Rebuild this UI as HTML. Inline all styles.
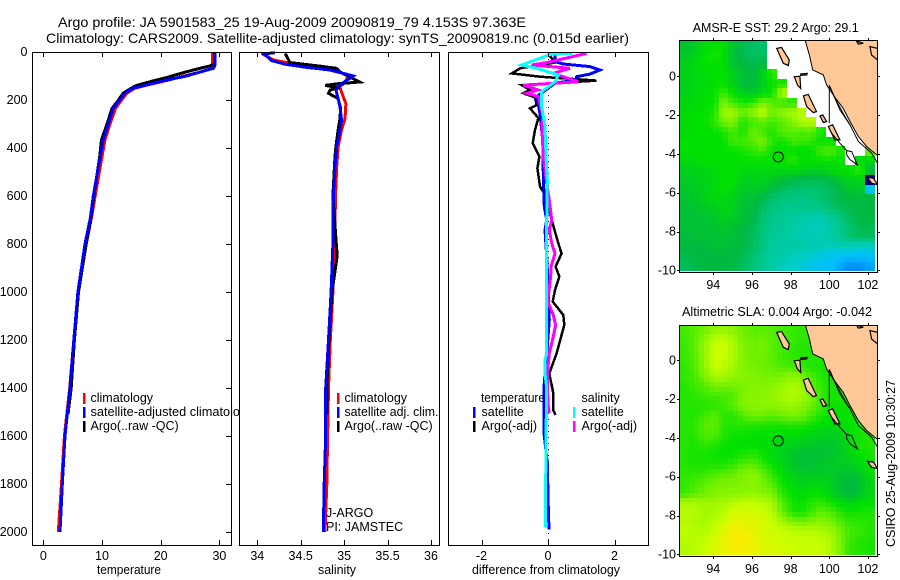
<!DOCTYPE html>
<html lang="en">
<head>
<meta charset="utf-8">
<title>Argo profile chart</title>
<style>
html,body{margin:0;padding:0;background:#fff;}
svg{display:block;}
text{font-family:"Liberation Sans",sans-serif;font-size:12.5px;fill:#000;}
.title{font-size:14px;}
</style>
</head>
<body>
<svg id="chart" xmlns="http://www.w3.org/2000/svg" width="900" height="580" viewBox="0 0 900 580">
  <rect x="0" y="0" width="900" height="580" fill="#fff"/>
  <text class="title" x="58" y="27" textLength="468" lengthAdjust="spacingAndGlyphs">Argo profile: JA 5901583_25 19-Aug-2009 20090819_79 4.153S 97.363E</text>
  <text class="title" x="46" y="43" textLength="583" lengthAdjust="spacingAndGlyphs">Climatology: CARS2009. Satellite-adjusted climatology: synTS_20090819.nc (0.015d earlier)</text>
  <g id="panel-t"></g>
  <g id="panel-s"></g>
  <g id="panel-d"></g>
  <g id="map-a"></g>
  <g id="map-b"></g>
  <text x="692.7" y="32" textLength="166" lengthAdjust="spacingAndGlyphs">AMSR-E SST: 29.2 Argo: 29.1</text>
  <text x="682" y="316" textLength="190" lengthAdjust="spacingAndGlyphs">Altimetric SLA: 0.004 Argo: -0.042</text>
  <text transform="translate(895,547) rotate(-90)" textLength="167" lengthAdjust="spacingAndGlyphs">CSIRO 25-Aug-2009 10:30:27</text>
</svg>
<script>
// ---------- profile data ----------
const tempClimDepth = [0,50,60,70,85,100,117,137,151,172,207,235,304,367,437,519,603,693,800,1000,1200,1400,1600,1800,2000];
const tempClim = [28.8,28.8,28.8,28.5,26.5,24.0,21.3,17.8,15.6,14.2,13.1,12.3,11.3,10.5,10.0,9.4,8.8,8.2,7.3,6.0,5.2,4.5,3.6,3.1,2.55];
const tempSatDepth = [0,54,68,80,100,117,137,151,172,207,235,304,367,437,519,603,693,800,1000,1200,1400,1600,1800,2000];
const tempSat = [29.25,29.25,29.0,27.2,24.4,21.0,17.6,15.3,13.9,12.8,11.9,11.0,10.2,9.7,9.1,8.5,8.0,7.1,5.9,5.2,4.55,3.7,3.24,2.85];
const tempArgoDepth = [0,48,58,72,88,105,125,140,155,172,207,235,304,367,437,519,603,693,800,1000,1200,1400,1510];
const tempArgo = [29.2,29.2,28.4,26.0,23.6,21.2,18.0,15.8,14.7,13.6,12.6,11.7,10.8,9.9,9.6,9.1,8.6,8.1,7.3,6.0,5.3,4.75,4.2];

const salClimDepth = [6,33,44,54,71,83,100,125,146,187,215,278,325,395,478,600,800,1000,1200,1400,1600,1800,2000];
const salClim = [34.05,34.184,34.338,34.55,34.76,34.95,35.05,35.01,34.95,34.99,35.02,35.01,34.97,34.93,34.914,34.90,34.89,34.87,34.84,34.82,34.81,34.80,34.78];
const salSatDepth = [3,8,36,51,64,75,89,100,137,158,228,283,325,395,478,603,800,1000,1200,1400,1600,1800,2000];
const salSat = [34.204,34.077,34.166,34.319,34.569,34.837,34.99,35.105,34.952,34.906,34.952,34.97,34.952,34.914,34.895,34.875,34.87,34.85,34.82,34.787,34.787,34.77,34.76];
const salArgoDepth = [6,44,58,68,83,125,132,139,149,158,172,194,235,283,325,408,464,600,700,850,1000,1200,1400,1510];
const salArgo = [34.32,34.376,34.70,34.91,34.95,35.18,34.93,34.78,34.95,34.84,34.82,34.93,34.96,34.95,34.93,34.90,34.89,34.87,34.89,34.92,34.86,34.825,34.80,34.80];

const diffTempSatDepth = [6,40,50,61,75,92,103,117,130,186,256,367,506,644,700,742,850,1000,1117,1256,1394,1588,1713,1900,1990];
const diffTempSat = [0.21,0.21,0.46,1.26,1.56,1.26,0.86,0.84,0.21,-0.34,-0.24,-0.16,-0.14,-0.11,-0.04,-0.09,-0.04,0.01,0.04,-0.04,-0.12,-0.12,-0.02,0.01,0.03];
const diffTempArgoDepth = [8,44,68,89,103,119,138,158,172,189,221,235,275,325,380,436,484,561,582,644,700,749,797,839,894,936,992,1040,1096,1137,1256,1339,1422,1492,1512];
const diffTempArgo = [0.01,0.21,-0.84,-1.09,-0.24,1.46,-0.79,-0.54,-0.74,-0.39,-0.34,-0.54,-0.29,-0.39,-0.46,-0.26,-0.32,-0.24,-0.14,0.01,0.11,0.21,0.31,0.41,0.23,0.34,0.21,0.14,0.46,0.49,0.26,0.04,0.16,0.16,0.23];
const diffSalSatDepth = [6,8,54,68,96,124,165,228,311,436,533,700,1000,1256,1283,1340,1400,1600,1794,1982];
const diffSalSat = [0.74,0.11,-0.79,-0.34,0.31,0.21,-0.19,-0.19,-0.09,-0.06,-0.02,-0.04,-0.04,-0.04,-0.09,-0.09,-0.04,-0.06,-0.07,-0.07];
const diffSalArgoDepth = [6,44,54,68,89,124,138,158,172,186,276,297,436,547,617,700,742,797,839,894,936,992,1040,1096,1137,1186,1256,1339,1394,1478,1505];
const diffSalArgo = [1.16,-0.04,-0.49,0.66,0.16,0.91,-0.74,-0.29,-0.64,-0.29,-0.14,-0.19,-0.14,-0.04,0.04,0.11,0.04,0.11,0.21,0.09,0.08,0.03,-0.01,0.16,0.23,0.16,0.04,-0.02,-0.02,0.01,0.04];

// ---------- tick labels ----------
const depthTicks = [0,200,400,600,800,1000,1200,1400,1600,1800,2000];
const tempTicks = [0,10,20,30];
const salTicks = [34,34.5,35,35.5,36];
const diffTicks = [-2,0,2];
const lonTicks = [94,96,98,100,102];
const latTicks = [0,-2,-4,-6,-8,-10];

// ---------- gridded map data ----------
const n = null;
const sstRows = [
[28.6,28.7,28.9,29.0,29.0,28.6,28.4,28.3,28.2,n,n,n,n,n,n,n,n,n,n,n],
[28.7,28.8,29.0,29.1,29.0,28.6,28.4,28.3,28.3,n,n,n,n,n,n,n,n,n,n,n],
[28.8,28.9,29.0,29.0,29.0,28.6,28.5,28.4,28.5,n,n,n,n,n,n,n,n,n,n,n],
[28.8,28.9,28.9,29.0,29.0,28.8,28.6,28.5,28.8,29.2,n,n,n,n,n,n,n,n,n,n],
[28.8,28.9,28.9,29.0,29.0,28.8,28.5,28.5,28.7,29.0,29.1,n,n,n,n,n,n,n,n,n],
[28.8,28.9,29.0,29.0,29.3,29.0,28.8,28.7,28.9,29.0,29.9,n,n,n,n,n,n,n,n,n],
[28.9,28.9,29.0,29.0,29.6,29.3,29.1,29.2,29.6,29.4,29.2,29.2,n,n,n,n,n,n,n,n],
[28.9,29.0,29.0,29.1,29.8,29.8,29.5,29.7,30.0,29.5,29.7,29.8,29.9,n,n,n,n,n,n,n],
[28.9,29.0,29.0,29.2,29.5,29.6,29.1,29.3,29.4,29.3,29.4,29.6,29.9,29.9,n,n,n,n,n,n],
[28.9,29.0,29.0,29.0,29.1,29.3,29.1,29.5,29.3,29.1,29.4,29.4,29.3,29.4,29.1,n,n,n,n,n],
[29.0,29.0,29.0,29.0,29.0,29.3,29.3,29.4,29.6,29.2,29.0,29.3,29.3,29.2,29.0,29.0,n,n,n,n],
[29.0,29.0,29.0,29.0,29.0,29.0,29.1,29.2,29.3,29.0,29.0,29.0,28.9,29.0,29.3,29.4,29.1,n,n,29.6],
[28.9,28.9,29.0,29.0,29.0,29.0,29.0,29.0,29.0,29.0,29.0,29.2,29.0,29.0,29.0,29.0,29.0,n,28.9,28.8],
[28.8,28.8,28.9,28.9,29.0,29.0,28.9,28.9,28.9,28.9,28.9,28.9,28.9,28.8,28.8,28.9,29.0,29.0,29.3,28.5],
[28.7,28.8,28.8,28.9,29.0,29.0,28.8,28.8,28.8,28.7,28.6,28.5,28.4,28.4,28.4,28.5,28.7,28.8,28.8,26.0],
[28.7,28.7,28.8,28.9,29.0,28.9,28.7,28.7,28.7,28.5,28.3,28.2,28.2,28.2,28.2,28.3,28.5,28.7,28.7,27.2],
[28.6,28.7,28.8,28.9,28.9,28.8,28.6,28.6,28.4,28.2,28.1,28.1,28.0,28.1,28.2,28.3,28.5,28.5,28.5,28.5],
[28.6,28.6,28.7,28.7,28.9,28.8,28.6,28.5,28.3,28.1,28.0,27.9,28.0,28.0,28.0,28.2,28.3,28.4,28.5,28.5],
[28.6,28.6,28.6,28.7,28.8,28.7,28.6,28.5,28.2,28.0,27.9,27.9,27.8,27.7,27.7,27.9,28.1,28.3,28.5,28.5],
[28.6,28.6,28.6,28.6,28.7,28.6,28.5,28.4,28.1,28.0,27.9,27.8,27.7,27.6,27.6,27.8,28.0,28.2,28.4,28.4],
[28.5,28.6,28.6,28.6,28.6,28.6,28.5,28.3,28.1,27.9,27.8,27.8,27.7,27.7,27.7,27.8,28.0,28.2,28.3,28.3],
[28.5,28.5,28.5,28.6,28.6,28.5,28.5,28.3,28.1,27.9,27.8,27.8,27.8,27.7,27.7,27.6,27.6,27.6,27.5,27.5],
[28.4,28.5,28.5,28.5,28.5,28.5,28.4,28.2,28.0,27.8,27.8,27.6,27.5,27.4,27.2,27.1,27.0,27.0,27.0,27.0],
[28.3,28.4,28.5,28.5,28.5,28.5,28.3,28.1,28.0,27.8,27.6,27.5,27.4,27.2,27.1,27.0,26.9,26.8,26.8,26.9]
];
const slaRows = [
[-.04,-.02,0,.03,.04,.03,0,-.02,-.02,-.02,-.04,-.05,-.06,-.06,-.05,-.05,-.05,-.05,-.05,-.05],
[-.05,-.02,.03,.08,.09,.06,.01,-.01,0,-.02,-.04,-.05,-.06,-.06,-.06,-.06,-.06,-.06,-.06,-.06],
[-.05,-.02,.04,.1,.11,.07,.02,0,.01,-.02,-.04,-.06,-.07,-.07,-.07,-.07,-.07,-.07,-.07,-.07],
[-.05,-.03,.04,.1,.1,.07,.02,0,0,-.02,-.04,-.06,-.07,-.07,-.07,-.07,-.07,-.07,-.07,-.07],
[-.06,-.03,.03,.09,.09,.05,.02,.01,0,-.01,-.03,-.03,-.05,-.07,-.08,-.08,-.08,-.08,-.08,-.08],
[-.06,-.04,.01,.06,.06,.04,.03,.02,.01,.01,.02,.04,.03,-.03,-.07,-.08,-.08,-.08,-.08,-.08],
[-.07,-.05,-.03,0,0,0,.01,.02,.03,.03,.05,.07,.06,0,-.06,-.08,-.08,-.08,-.08,-.08],
[-.07,-.06,-.05,-.04,-.04,-.03,.02,.03,.03,.04,.06,.07,.06,.02,-.05,-.08,-.08,-.08,-.08,-.08],
[-.07,-.07,-.07,-.06,-.05,-.02,.02,.03,.03,.03,.04,.05,.03,0,-.05,-.09,-.09,-.09,-.08,-.08],
[-.07,-.07,-.05,-.02,-.06,-.07,-.03,0,0,-.02,0,.01,0,-.04,-.08,-.1,-.1,-.09,-.08,-.07],
[-.07,-.06,-.02,-.01,-.06,-.07,-.07,-.07,-.08,-.08,-.08,-.07,-.07,-.09,-.11,-.12,-.11,-.1,-.08,-.07],
[-.07,-.07,-.03,-.03,-.07,-.09,-.09,-.1,-.1,-.1,-.11,-.11,-.12,-.13,-.14,-.15,-.14,-.11,-.08,-.07],
[-.07,-.08,-.06,-.07,-.09,-.1,-.1,-.1,-.11,-.12,-.13,-.14,-.15,-.16,-.17,-.17,-.15,-.12,-.08,-.07],
[-.07,-.08,-.08,-.09,-.1,-.1,-.08,-.07,-.09,-.12,-.14,-.17,-.18,-.18,-.18,-.17,-.15,-.13,-.1,-.08],
[-.07,-.08,-.08,-.08,-.08,-.06,-.03,-.02,-.06,-.1,-.13,-.16,-.18,-.18,-.17,-.16,-.15,-.15,-.12,-.09],
[-.06,-.06,-.05,-.03,-.02,-.01,.02,.03,0,-.06,-.11,-.14,-.16,-.16,-.15,-.16,-.17,-.18,-.16,-.11],
[-.06,-.04,-.02,0,.01,.01,.02,.03,.01,-.03,-.09,-.12,-.14,-.13,-.13,-.15,-.18,-.2,-.18,-.12],
[-.05,-.02,0,.02,.03,.03,.03,.04,.03,.01,-.06,-.1,-.12,-.1,-.1,-.14,-.18,-.2,-.17,-.12],
[.06,.06,.05,.05,.06,.07,.09,.09,.08,.06,-.03,-.08,-.1,-.07,-.06,-.09,-.12,-.14,-.12,-.1],
[.08,.08,.06,.06,.08,.11,.13,.12,.11,.08,0,-.07,-.09,-.05,-.01,-.03,-.07,-.09,-.08,-.08],
[.08,.07,.06,.08,.1,.15,.16,.14,.12,.1,.06,.02,.01,.02,.03,.01,-.03,-.06,-.06,-.07],
[.09,.08,.07,.1,.14,.18,.18,.15,.13,.11,.1,.09,.08,.08,.07,.05,0,-.04,-.05,-.07],
[.08,.08,.09,.12,.16,.19,.2,.17,.13,.12,.11,.1,.1,.1,.09,.07,.01,-.05,-.07,-.08],
[.07,.08,.1,.13,.16,.18,.18,.16,.14,.13,.12,.11,.1,.1,.1,.07,.01,-.06,-.07,-.08]
];

// Geography in [lon, lat]
const landSumatra = [[98.74,1.9],[98.97,1.10],[99.14,0.33],[99.69,0.07],[99.86,-0.45],[100.29,-1.08],[100.72,-1.65],[101.07,-2.33],[101.5,-3.1],[101.93,-3.62],[102.5,-4.08],[102.5,1.9]];
const landIslands = [
[[97.28,1.44],[97.53,1.49],[97.93,0.84],[97.88,0.55],[97.62,0.67]],
[[98.66,-1.01],[98.91,-0.93],[99.34,-1.82],[99.17,-1.87],[98.83,-1.56]],
[[98.19,-0.02],[98.48,0.0],[98.52,-0.63],[98.36,-0.46]],
[[98.52,0.12],[98.86,0.15],[98.83,0.07],[98.52,0.05]],
[[99.52,-2.04],[99.66,-1.99],[99.86,-2.33],[99.69,-2.38]],
[[99.95,-2.59],[100.17,-2.5],[100.55,-3.28],[100.29,-3.28]],
[[101.97,-5.21],[102.28,-5.25],[102.5,-5.59],[102.19,-5.51]],
[[101.41,1.82],[101.76,1.7],[101.5,1.66]],
[[102.1,1.53],[102.5,1.44],[102.5,0.84],[102.19,1.1]]
];
const contourLines = [
[[100,-0.45],[100,-2.42]],
[[100.03,-0.53],[100.55,-1.73],[101.07,-2.5],[101.5,-3.36],[102.19,-3.96],[102.5,-4.48]],
[[100.03,-0.53],[100.29,-1.13],[100.81,-2.07],[101.07,-2.5]],
[[100.12,-2.93],[100.55,-3.45],[100.9,-3.83]],
[[100.9,-3.83],[101.16,-3.88],[101.45,-4.56],[101.07,-4.3],[100.9,-4.05],[100.9,-3.83]]
];
const floatPosition = [97.363,-4.153];

// Colour ramp stops, low to high
const rampStops = [[0,0,130],[0,60,230],[0,190,255],[0,205,200],[0,200,140],[0,185,65],[0,225,0],[110,240,0],[200,255,0],[255,235,0]];

// ---------- axis functions ----------
const NS = 'http://www.w3.org/2000/svg';
const yDepth = d => 52 + 0.24 * d;
const xTemp = t => 43.3 + 5.87 * t;
const xSal = s => 257.3 + 86.85 * (s - 34);
const xDiff = v => 548 + 33.25 * v;
const xLon = lon => 713.3 + 19.33 * (lon - 94);
const yLatA = lat => 76.3 - 19.4 * lat;
const yLatB = lat => 360.3 - 19.4 * lat;

function make(tag, parent, attrs, txt) {
  const el = document.createElementNS(NS, tag);
  for (const k in attrs) el.setAttribute(k, attrs[k]);
  if (txt !== undefined) el.textContent = txt;
  parent.appendChild(el);
  return el;
}

function ramp(t) {
  const c = Math.max(0, Math.min(rampStops.length - 1, t));
  const i = Math.min(rampStops.length - 2, Math.floor(c));
  const f = c - i;
  const a = rampStops[i], b = rampStops[i + 1];
  return 'rgb(' + a.map((v, k) => Math.round(v + (b[k] - v) * f)).join(',') + ')';
}

function drawFrame(g, x, y, w, h, name) {
  const el = make('rect', g, {x: x, y: y, width: w, height: h, fill: 'none', stroke: '#000', 'stroke-width': 1, 'shape-rendering': 'crispEdges'});
  
  
}

function drawSeries(g, depths, values, xFn, color, width, name) {
  const pts = depths.map((d, i) => xFn(values[i]).toFixed(1) + ',' + yDepth(d).toFixed(1)).join(' ');
  const el = make('polyline', g, {points: pts, fill: 'none', stroke: color, 'stroke-width': width, 'stroke-linejoin': 'miter', 'shape-rendering': 'crispEdges'});
  
  
}

function drawXTicks(g, ticks, xFn, name) {
  ticks.forEach(t => {
    const x = Math.round(xFn(t)) + 0.5;
    const top = make('line', g, {x1: x, x2: x, y1: 52, y2: 57, stroke: '#000', 'shape-rendering': 'crispEdges'});
    
    
    const bot = make('line', g, {x1: x, x2: x, y1: 540, y2: 545, stroke: '#000', 'shape-rendering': 'crispEdges'});
    
    
    const lab = make('text', g, {x: xFn(t), y: 560, 'text-anchor': 'middle'}, String(t));
    
    
  });
}

function drawText(g, x, y, str, name, anchor, len) {
  const attrs = {x: x, y: y};
  if (anchor) attrs['text-anchor'] = anchor;
  if (len) { attrs.textLength = len; attrs.lengthAdjust = 'spacingAndGlyphs'; }
  const el = make('text', g, attrs, str);
  
  
}

function drawLegendBar(g, x, y, color, name) {
  const el = make('rect', g, {x: x, y: y, width: 2.5, height: 11, fill: color, 'shape-rendering': 'crispEdges'});
  
  
}

// ---------- temperature panel ----------
const gT = document.getElementById('panel-t');
const bgT = make('rect', gT, {x: 32.5, y: 52.5, width: 199, height: 493, fill: '#fff'});


drawSeries(gT, tempClimDepth, tempClim, xTemp, '#f00', 3, 'temperature-climatology-line');
drawSeries(gT, tempArgoDepth, tempArgo, xTemp, '#000', 3, 'temperature-argo-line');
drawSeries(gT, tempSatDepth, tempSat, xTemp, '#00f', 3, 'temperature-satellite-line');
drawFrame(gT, 32.5, 52.5, 199, 493, 'temperature-frame');
drawXTicks(gT, tempTicks, xTemp, 'temperature');
depthTicks.forEach(d => {
  const y = Math.round(yDepth(d)) + 0.5;
  const tick = make('line', gT, {x1: 226, x2: 231, y1: y, y2: y, stroke: '#000', 'shape-rendering': 'crispEdges'});
  
  
  drawText(gT, 27.5, yDepth(d) + 4, String(d), 'depth-tick-label', 'end');
});
drawText(gT, 97, 574, 'temperature', 'temperature-axis-title', null, 64);
drawLegendBar(gT, 83, 393, '#f00', 'legend-climatology-swatch');
drawLegendBar(gT, 83, 407, '#00f', 'legend-satellite-swatch');
drawLegendBar(gT, 83, 421, '#000', 'legend-argo-swatch');
drawText(gT, 90.5, 402, 'climatology', 'legend-climatology-label');
drawText(gT, 90.5, 416, 'satellite-adjusted climatology', 'legend-satellite-label', null, 163);
drawText(gT, 90.5, 430, 'Argo(..raw -QC)', 'legend-argo-label');

// ---------- salinity panel ----------
const gS = document.getElementById('panel-s');
const bgS = make('rect', gS, {x: 239.5, y: 52.5, width: 200, height: 493, fill: '#fff'});


drawSeries(gS, salClimDepth, salClim, xSal, '#f00', 3, 'salinity-climatology-line');
drawSeries(gS, salArgoDepth, salArgo, xSal, '#000', 3, 'salinity-argo-line');
drawSeries(gS, salSatDepth, salSat, xSal, '#00f', 3, 'salinity-satellite-line');
drawFrame(gS, 239.5, 52.5, 200, 493, 'salinity-frame');
drawXTicks(gS, salTicks, xSal, 'salinity');
drawText(gS, 318, 574, 'salinity', 'salinity-axis-title', null, 38);
drawLegendBar(gS, 337, 393, '#f00', 'legend-climatology-swatch');
drawLegendBar(gS, 337, 407, '#00f', 'legend-satellite-swatch');
drawLegendBar(gS, 337, 421, '#000', 'legend-argo-swatch');
drawText(gS, 344.5, 402, 'climatology', 'legend-climatology-label');
drawText(gS, 344.5, 416, 'satellite adj. clim.', 'legend-satellite-label', null, 94);
drawText(gS, 344.5, 430, 'Argo(..raw -QC)', 'legend-argo-label');
drawText(gS, 326, 517, 'J-ARGO', 'float-program-label');
drawText(gS, 326, 531, 'PI: JAMSTEC', 'float-pi-label');

// ---------- difference panel ----------
const gD = document.getElementById('panel-d');
const bgD = make('rect', gD, {x: 448.5, y: 52.5, width: 200, height: 493, fill: '#fff'});


const zero = make('line', gD, {x1: 548.5, x2: 548.5, y1: 53, y2: 545, stroke: '#000', 'stroke-dasharray': '1 5', 'shape-rendering': 'crispEdges'});


drawSeries(gD, diffTempArgoDepth, diffTempArgo, xDiff, '#000', 2.5, 'difference-temperature-argo-line');
drawSeries(gD, diffTempSatDepth, diffTempSat, xDiff, '#00f', 3, 'difference-temperature-satellite-line');
drawSeries(gD, diffSalArgoDepth, diffSalArgo, xDiff, '#f0f', 3, 'difference-salinity-argo-line');
drawSeries(gD, diffSalSatDepth, diffSalSat, xDiff, '#0ff', 3, 'difference-salinity-satellite-line');
drawFrame(gD, 448.5, 52.5, 200, 493, 'difference-frame');
drawXTicks(gD, diffTicks, xDiff, 'difference');
drawText(gD, 472, 574, 'difference from climatology', 'difference-axis-title', null, 148);
drawText(gD, 481, 402, 'temperature', 'legend-temperature-heading', null, 64);
drawText(gD, 481.5, 416, 'satellite', 'legend-temperature-satellite-label');
drawText(gD, 481.5, 430, 'Argo(-adj)', 'legend-temperature-argo-label');
drawText(gD, 581.5, 402, 'salinity', 'legend-salinity-heading');
drawText(gD, 581.5, 416, 'satellite', 'legend-salinity-satellite-label');
drawText(gD, 581.5, 430, 'Argo(-adj)', 'legend-salinity-argo-label');
drawLegendBar(gD, 473, 407, '#00f', 'legend-temperature-satellite-swatch');
drawLegendBar(gD, 473, 421, '#000', 'legend-temperature-argo-swatch');
drawLegendBar(gD, 573, 407, '#0ff', 'legend-salinity-satellite-swatch');
drawLegendBar(gD, 573, 421, '#f0f', 'legend-salinity-argo-swatch');

// ---------- maps ----------
const gridLonStart = 92.25, gridLonStep = 0.505;
const gridLatStart = 1.86, gridLatStep = -0.4965;

// Each grid value is painted as four sub-cells, blended toward its neighbours
function blended(rows, r, c, qr, qc) {
  const v = rows[r][c];
  const dr = qr === 0 ? -1 : 1, dc = qc === 0 ? -1 : 1;
  const near = (rr, cc) => {
    const row = rows[rr];
    const o = row ? row[cc] : undefined;
    return (o === null || o === undefined || Math.abs(o - v) > 1) ? v : o;
  };
  return 0.5625 * v + 0.1875 * near(r, c + dc) + 0.1875 * near(r + dr, c) + 0.0625 * near(r + dr, c + dc);
}

function drawMap(g, rows, colorFn, yLat, frameY, frameH, labelY, prefix) {
  rows.forEach((row, r) => {
    row.forEach((v, c) => {
      if (v === null) return;
      for (let qr = 0; qr < 2; qr++) {
        for (let qc = 0; qc < 2; qc++) {
          const x0 = Math.round(xLon(gridLonStart + (c + qc / 2) * gridLonStep));
          const x1 = Math.round(xLon(gridLonStart + (c + (qc + 1) / 2) * gridLonStep));
          const y0 = Math.round(yLat(gridLatStart + (r + qr / 2) * gridLatStep));
          const y1 = Math.round(yLat(gridLatStart + (r + (qr + 1) / 2) * gridLatStep));
          const cell = make('rect', g, {x: x0, y: y0, width: x1 - x0, height: y1 - y0, fill: colorFn(blended(rows, r, c, qr, qc)), 'shape-rendering': 'crispEdges'});
          
          
        }
      }
    });
  });
  const toPts = poly => poly.map(p => xLon(p[0]).toFixed(1) + ',' + yLat(p[1]).toFixed(1)).join(' ');
  const main = make('polygon', g, {points: toPts(landSumatra), fill: '#ffc896', stroke: '#000', 'stroke-width': 1});
  
  
  landIslands.forEach(poly => {
    const isl = make('polygon', g, {points: toPts(poly), fill: '#ffc896', stroke: '#000', 'stroke-width': 1.2});
    
    
  });
  contourLines.forEach(line => {
    const ln = make('polyline', g, {points: toPts(line), fill: 'none', stroke: '#000', 'stroke-width': 1});
    
    
  });
  const marker = make('circle', g, {cx: xLon(floatPosition[0]), cy: yLat(floatPosition[1]), r: 5, fill: 'none', stroke: '#000', 'stroke-width': 1});
  
  
  // mask overflow outside frame on the top and the right
  const maskT = make('rect', g, {x: 676, y: frameY - 14, width: 204, height: 14, fill: '#fff'});
  
  
  const maskR = make('rect', g, {x: 878, y: frameY - 14, width: 6, height: frameH + 16, fill: '#fff'});
  
  
  drawFrame(g, 679.5, frameY + 0.5, 198, frameH, prefix + '-frame');
  lonTicks.forEach(lon => {
    const x = Math.round(xLon(lon)) + 0.5;
    const a = make('line', g, {x1: x, x2: x, y1: frameY - 2, y2: frameY, stroke: '#000', 'shape-rendering': 'crispEdges'});
    
    
    const b = make('line', g, {x1: x, x2: x, y1: frameY + frameH + 1, y2: frameY + frameH + 3, stroke: '#000', 'shape-rendering': 'crispEdges'});
    
    
    drawText(g, xLon(lon), labelY, String(lon), prefix + '-lon-label', 'middle');
  });
  latTicks.forEach(lat => {
    const y = Math.round(yLat(lat)) + 0.5;
    const a = make('line', g, {x1: 677, x2: 679, y1: y, y2: y, stroke: '#000', 'shape-rendering': 'crispEdges'});
    
    
    const b = make('line', g, {x1: 878, x2: 880, y1: y, y2: y, stroke: '#000', 'shape-rendering': 'crispEdges'});
    
    
    drawText(g, 676, yLat(lat) + 4, String(lat), prefix + '-lat-label', 'end');
  });
}

drawMap(document.getElementById('map-a'), sstRows, v => ramp((v - 26) * 2), yLatA, 40, 232, 289, 'sst-map');
drawMap(document.getElementById('map-b'), slaRows, v => ramp(5 + (v + 0.2) * 10), yLatB, 325, 231, 573, 'sla-map');
</script>
</body>
</html>
